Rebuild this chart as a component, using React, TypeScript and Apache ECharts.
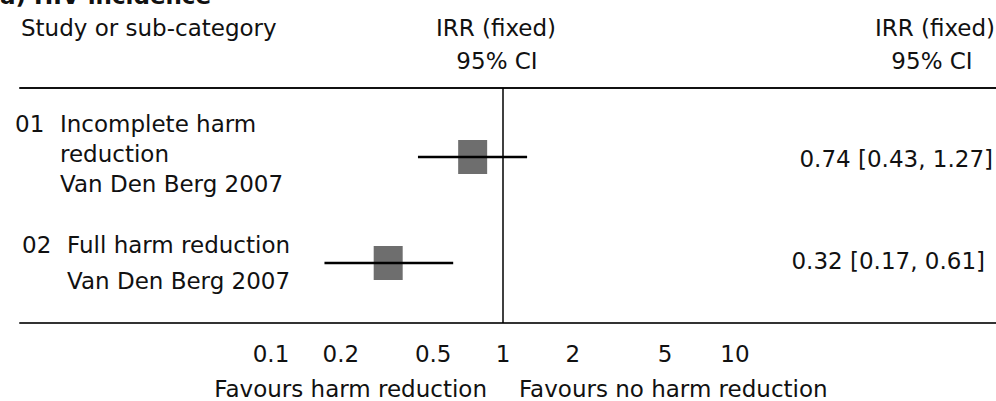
import React, { useEffect, useRef } from "react";
import * as echarts from "echarts";

const studies = ["01 Incomplete harm reduction", "02 Full harm reduction"];
const rowIndex = [1, 2];
const estimates = [0.74, 0.32];
const lower = [0.43, 0.17];
const upper = [1.27, 0.61];
const resultLabels = ["0.74 [0.43, 1.27]", "0.32 [0.17, 0.61]"];
const tickValues = [0.1, 0.2, 0.5, 1, 2, 5, 10];

const FONT = "DejaVu Sans";
const FS = 23;

export default function App() {
  const ref = useRef<HTMLDivElement>(null);
  useEffect(() => {
    if (!ref.current) return;
    const chart = echarts.init(ref.current, null, { renderer: "svg" });
    const gridLeft = 20;
    const gridWidth = 976;
    const nullX = 503;
    const pxPerDecade = 232;
    const logMin = -(nullX - gridLeft) / pxPerDecade;
    const logMax = logMin + gridWidth / pxPerDecade;
    const xMin = Math.pow(10, logMin);
    const xMax = Math.pow(10, logMax);

    const txt = (text: string, x: number, y: number, align: string, extra: any = {}) => ({
      type: "text",
      x,
      y,
      style: {
        text,
        fill: "#111",
        font: `${extra.bold ? "bold " : ""}${extra.size || FS}px "${FONT}"`,
        align,
        verticalAlign: "middle",
      },
      silent: true,
    });

    chart.setOption({
      animation: false,
      backgroundColor: "#fff",
      grid: { left: gridLeft, right: 0, top: 88, bottom: 78, containLabel: false, outerBoundsMode: "none" },
      xAxis: [
        {
          type: "log",
          logBase: 10,
          min: xMin,
          max: xMax,
          axisLine: { show: true, lineStyle: { color: "#333", width: 2 } },
          axisTick: { show: false },
          splitLine: { show: false },
          axisLabel: {
            show: true,
            customValues: tickValues,
            margin: 19,
            color: "#111",
            fontFamily: FONT,
            fontSize: FS,
            formatter: (v: number) => String(v),
          },
        },
        {
          type: "log",
          logBase: 10,
          min: xMin,
          max: xMax,
          position: "top",
          axisLine: { show: true, lineStyle: { color: "#111", width: 2 } },
          axisTick: { show: false },
          splitLine: { show: false },
          axisLabel: { show: false },
        },
      ],
      yAxis: { type: "value", inverse: true, min: 0.349, max: 2.566, show: false },
      series: [
        {
          type: "scatter",
          name: "IRR",
          xAxisIndex: 0,
          symbol: "rect",
          symbolSize: [29, 34],
          itemStyle: { color: "#6e6e6e", opacity: 1 },
          z: 2,
          data: estimates.map((e, i) => ({ name: studies[i], value: [e, rowIndex[i]] })),
          markLine: {
            silent: true,
            symbol: "none",
            label: { show: false },
            lineStyle: { color: "#000", width: 1.5, type: "solid" },
            data: [{ xAxis: 1 }],
          },
        },
        {
          type: "custom",
          xAxisIndex: 0,
          z: 3,
          encode: { x: [0, 1], y: 2 },
          data: lower.map((l, i) => [l, upper[i], rowIndex[i]]),
          renderItem: (params: any, api: any) => {
            const y = api.value(2);
            const a = api.coord([api.value(0), y]);
            const b = api.coord([api.value(1), y]);
            return {
              type: "line",
              shape: { x1: a[0], y1: a[1], x2: b[0], y2: b[1] },
              style: { stroke: "#000", lineWidth: 2.6 },
            };
          },
        },
      ],
      graphic: [
        txt("a) HIV incidence", 0, -4, "left", { bold: true }),
        txt("Study or sub-category", 21, 28, "left"),
        txt("IRR (fixed)", 496, 28, "center"),
        txt("95% CI", 497, 61, "center"),
        txt("IRR (fixed)", 935, 28, "center"),
        txt("95% CI", 932, 61, "center"),
        txt("01", 15, 124, "left"),
        txt("Incomplete harm", 60, 124, "left"),
        txt("reduction", 60, 154, "left"),
        txt("Van Den Berg 2007", 60, 184, "left"),
        txt("02", 22, 245, "left"),
        txt("Full harm reduction", 67, 245, "left"),
        txt("Van Den Berg 2007", 67, 281, "left"),
        txt(resultLabels[0], 993, 159, "right"),
        txt(resultLabels[1], 985, 261, "right"),
        txt("Favours harm reduction", 487, 389, "right"),
        txt("Favours no harm reduction", 519, 389, "left"),
      ],
    });
    return () => chart.dispose();
  }, []);
  return (
    <div
      ref={ref}
      style={{ position: "absolute", left: 0, top: 0, width: 996, height: 401 }}
    />
  );
}
